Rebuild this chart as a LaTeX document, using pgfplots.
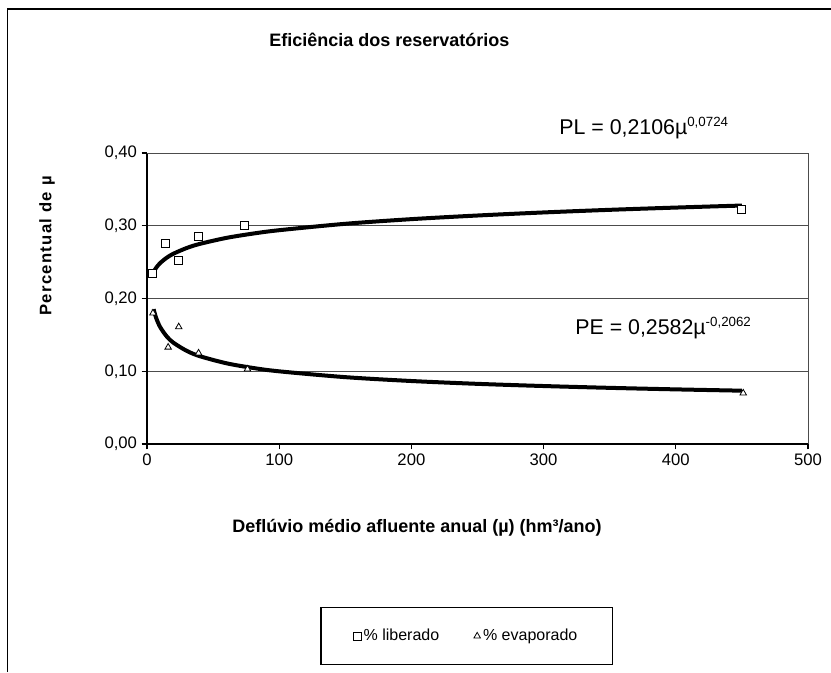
\documentclass[border=0pt]{standalone}
\usepackage{pgfplots}
\pgfplotsset{compat=1.18}
\usepackage{fontspec}
\setmainfont{Liberation Sans}
\begin{document}
\begin{tikzpicture}
\path[use as bounding box] (0pt,0pt) rectangle (623.25pt,-504pt);
\draw[line width=1pt] (5.5pt,-504pt) -- (5.5pt,-6.75pt) -- (623.25pt,-6.75pt);
\node[font=\bfseries\fontsize{13.5}{15}\selectfont] at (292pt,-30pt) {Eficiência dos reservatórios};
\node[anchor=west,font=\fontsize{16}{18}\selectfont] at (416pt,-96pt) {PL = 0,2106µ\textsuperscript{\fontsize{10}{10}\selectfont 0,0724}};
\node[anchor=west,font=\fontsize{16}{18}\selectfont] at (428pt,-246pt) {PE = 0,2582µ\textsuperscript{\fontsize{10}{10}\selectfont -0,2062}};
\node[rotate=90,font=\bfseries\fontsize{12.5}{14}\selectfont\addfontfeature{LetterSpace=8}] at (35.25pt,-184.5pt) {Percentual de µ};
\node[font=\bfseries\fontsize{13.5}{15}\selectfont] at (312.75pt,-396pt) {Deflúvio médio afluente anual (µ) (hm³/ano)};
\begin{axis}[
  at={(110.25pt,-333pt)}, anchor=south west,
  scale only axis, width=495.75pt, height=218.25pt,
  xmin=0, xmax=500, ymin=0, ymax=0.4,
  xtick={0,100,200,300,400,500},
  ytick={0,0.1,0.2,0.3,0.4},
  axis lines*=left, axis line style={-, line width=0.9pt, black},
  ymajorgrids, grid style={gray!60!black, line width=0.7pt},
  tick align=outside, major tick length=4pt,
  tick style={black, line width=0.8pt},
  ticklabel style={font=\fontsize{12.5}{14}\selectfont},
  /pgf/number format/assume math mode=true,
  yticklabel style={/pgf/number format/.cd, use comma, fixed, fixed zerofill, precision=2},
  xticklabel style={/pgf/number format/.cd, fixed, precision=0, 1000 sep={}},
  clip=false,
  legend columns=2,
  legend style={at={(0.4834,-0.66)}, anchor=center, draw=black, line width=0.8pt,
    font=\fontsize{12}{14}\selectfont, inner xsep=24pt, inner ysep=14pt,
    /tikz/every even column/.append style={column sep=24pt}},
  legend cell align=left,
  after end axis/.code={
    \draw[gray!60!black, line width=0.7pt] (rel axis cs:0,1) -- (rel axis cs:1,1) -- (rel axis cs:1,0);
  },
]
\addplot[only marks, mark=square*, mark size=3pt, mark options={fill=white, draw=black, line width=0.7pt}]
coordinates {(4,0.235) (14,0.275) (24,0.252) (39,0.285) (74,0.301) (450,0.323)};
\addlegendentry{\% liberado}
\addplot[only marks, mark=triangle*, mark size=2.8pt, mark options={fill=white, draw=black, line width=0.6pt}]
coordinates {(4.5,0.18) (16,0.133) (24,0.161) (39,0.125) (76,0.103) (451,0.07)};
\addlegendentry{\% evaporado}
\addplot[forget plot, black, line width=3pt, smooth]
coordinates {(5,0.2366) (7,0.2425) (10,0.2488) (15,0.2562) (20,0.2616) (30,0.2694) (40,0.2751) (60,0.2833) (80,0.2892) (100,0.2939) (150,0.3027) (200,0.3091) (250,0.3141) (300,0.3183) (350,0.3219) (400,0.3250) (450,0.3278)};
\addplot[forget plot, black, line width=3pt, smooth]
coordinates {(5,0.1853) (7,0.1729) (10,0.1606) (15,0.1477) (20,0.1392) (30,0.1281) (40,0.1207) (60,0.1110) (80,0.1046) (100,0.0999) (150,0.0919) (200,0.0866) (250,0.0827) (300,0.0797) (350,0.0772) (400,0.0751) (450,0.0733)};
\end{axis}
\end{tikzpicture}
\end{document}
